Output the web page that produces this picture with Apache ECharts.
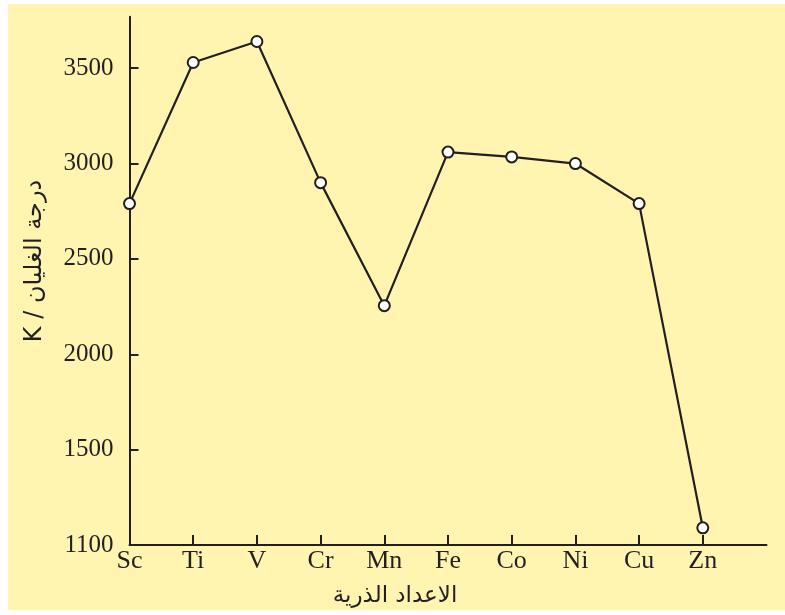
<!DOCTYPE html>
<html>
<head>
<meta charset="utf-8">
<script src="https://cdn.jsdelivr.net/npm/echarts@6/dist/echarts.min.js"></script>
<style>
  html, body { margin: 0; padding: 0; background: #ffffff; }
  #wrap { position: relative; width: 785px; height: 615px; background: #ffffff; }
  #bg { position: absolute; left: 8px; top: 4px; width: 777px; height: 606px; background: #fff5b1; }
  #chart { position: absolute; left: 0; top: 0; width: 785px; height: 615px; }
</style>
</head>
<body>
<div id="wrap"><div id="bg"></div><div id="chart"></div></div>
<script>
// Categories (last slot is empty to extend the axis)
const elements = ['Sc', 'Ti', 'V', 'Cr', 'Mn', 'Fe', 'Co', 'Ni', 'Cu', 'Zn', ''];
// Boiling points (K)
const boilingPoints = [2790, 3530, 3640, 2900, 2255, 3060, 3035, 3000, 2790, 1090];
// Y tick positions and their printed labels (bottom tick is printed as 1100)
const yTickValues = [1000, 1500, 2000, 2500, 3000, 3500];
const yTickLabels = ['1100', '1500', '2000', '2500', '3000', '3500'];
const yAxisTitle = 'K / درجة الغليان';
const xAxisTitle = 'الاعداد الذرية';

const ink = '#231f20';
const serif = '"Liberation Serif", "DejaVu Serif", serif';
const arabicFont = '"DejaVu Sans", "Noto Sans", sans-serif';

const chart = echarts.init(document.getElementById('chart'), null, { renderer: 'canvas' });
chart.setOption({
  backgroundColor: 'transparent',
  animation: false,
  grid: { left: 129.5, right: 18.5, top: 16.7, bottom: 70, containLabel: false },
  xAxis: {
    type: 'category',
    data: elements,
    boundaryGap: false,
    axisLine: { lineStyle: { color: ink, width: 2 } },
    axisTick: {
      inside: true, length: 10, lineStyle: { color: ink, width: 2 },
      interval: function (i) { return i < elements.length - 1; }
    },
    axisLabel: { color: ink, fontFamily: serif, fontSize: 26, margin: 3 },
    splitLine: { show: false }
  },
  yAxis: {
    type: 'value',
    min: 1000,
    max: 3770,
    axisLine: { show: true, lineStyle: { color: ink, width: 2 } },
    axisTick: {
      show: true, inside: true, length: 9, lineStyle: { color: ink, width: 2 },
      customValues: yTickValues
    },
    axisLabel: {
      color: ink, fontFamily: serif, fontSize: 25, margin: 16,
      customValues: yTickValues,
      formatter: function (v) {
        const i = yTickValues.indexOf(v);
        return i >= 0 ? yTickLabels[i] : '';
      }
    },
    splitLine: { show: false }
  },
  graphic: [
    {
      type: 'text',
      x: 35, y: 261,
      rotation: Math.PI / 2,
      style: {
        text: yAxisTitle,
        fill: ink,
        font: '24px ' + arabicFont,
        align: 'center',
        verticalAlign: 'middle'
      }
    },
    {
      type: 'text',
      x: 395, y: 596,
      style: {
        text: xAxisTitle,
        fill: ink,
        font: '23px ' + arabicFont,
        align: 'center',
        verticalAlign: 'middle'
      }
    }
  ],
  series: [{
    type: 'line',
    data: boilingPoints,
    symbol: 'circle',
    symbolSize: 11,
    showAllSymbol: true,
    lineStyle: { color: ink, width: 2.2 },
    itemStyle: { color: '#ffffff', borderColor: ink, borderWidth: 2 },
    z: 5
  }]
});
</script>
</body>
</html>
